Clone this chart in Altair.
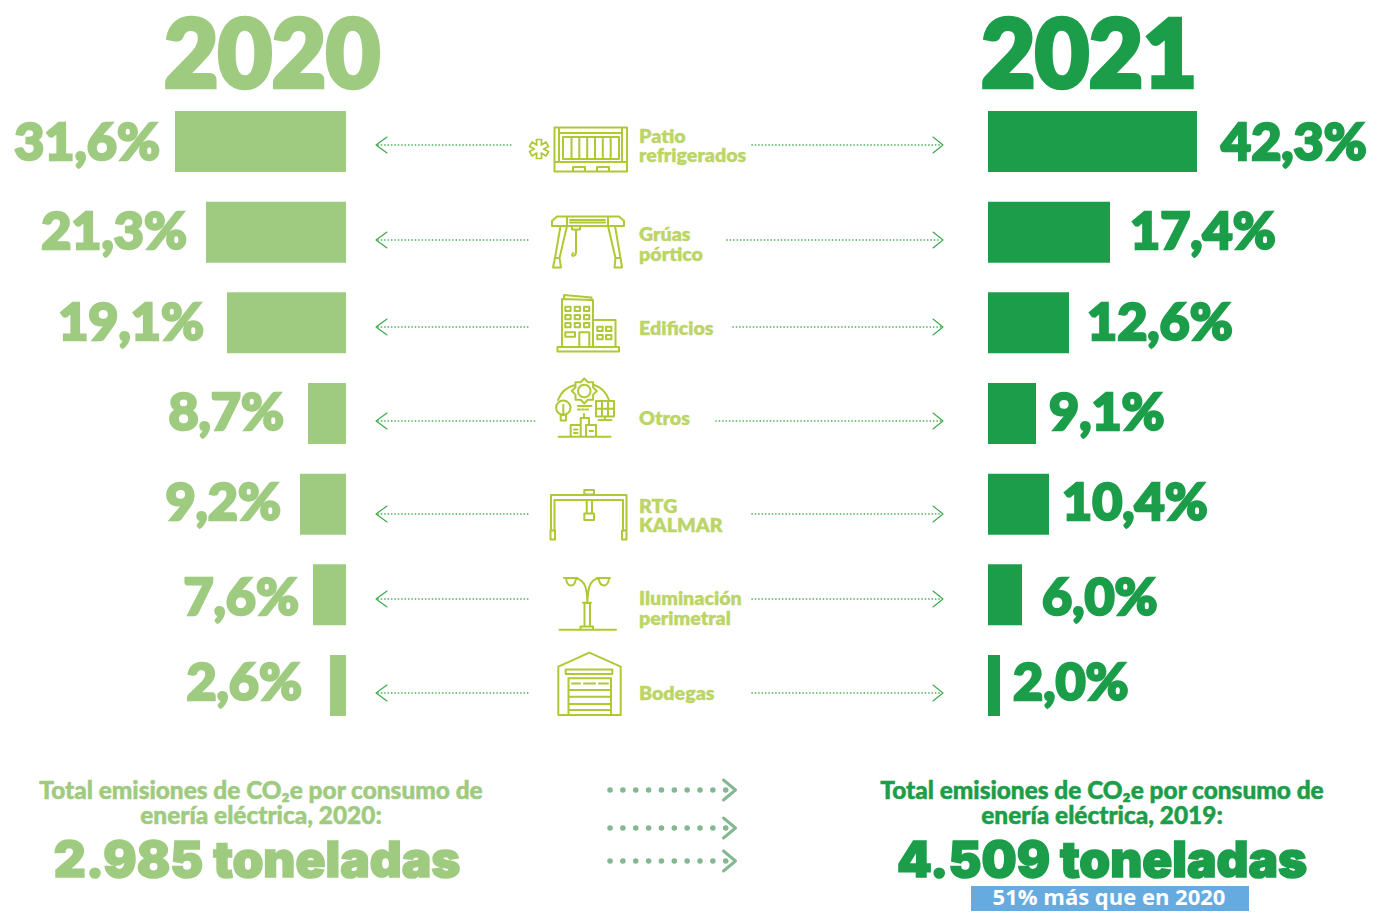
import math
import re
import altair as alt
import pandas as pd

# ---------- data ----------
categories = ["Patio refrigerados", "Grúas pórtico", "Edificios", "Otros", "RTG KALMAR",
              "Iluminación perimetral", "Bodegas"]
labels_2020 = ["31,6%", "21,3%", "19,1%", "8,7%", "9,2%", "7,6%", "2,6%"]
labels_2021 = ["42,3%", "17,4%", "12,6%", "9,1%", "10,4%", "6,0%", "2,0%"]
# bar lengths as drawn in the picture (the source's bars are not strictly proportional to their labels)
drawn_2020 = [34.2, 28.0, 23.8, 7.6, 9.2, 6.6, 3.2]
drawn_2021 = [41.8, 24.4, 16.2, 9.6, 12.2, 6.8, 2.4]
cat_lines = [["Patio", "refrigerados"], ["Grúas", "pórtico"], ["Edificios"], ["Otros"],
             ["RTG", "KALMAR"], ["Iluminación", "perimetral"], ["Bodegas"]]

LIGHT, DARK = "#9FCB81", "#1B9D49"
ICON, CAT_TXT = "#AEC935", "#BCD566"
ARROW, BIG_ARROW, BLUE = "#3BA848", "#84B792", "#65ABE0"
HEAVY, NUM, BODY = "Inter", "Lato", "Lato"

# ---------- layout, page pixels ----------
OX, OY = 8, 8
left_right_edge = [160, 187, 204, 284, 281, 299, 302]
right_left_edge = [1221, 1130, 1087, 1049, 1062, 1042, 1013]
pct_base = [160, 249, 340, 430, 520, 615, 700]
arrow_y = [145, 240, 327, 421, 514, 599, 693]
left_dot_end = [512, 530, 530, 535, 530, 530, 530]
right_dot_start = [752, 727, 733, 716, 752, 752, 752]
cat_base = [[143, 162], [241, 261], [335], [425], [513, 532], [605, 625], [700]]
PCT_SIZE = 52

one = alt.Data(values=[{}])


def text(s, x, y, size, color, font=HEAVY, weight=900, align="center", stroke=0.0):
    kw = dict(stroke=color, strokeWidth=stroke) if stroke else {}
    return alt.Chart(one).mark_text(
        font=font, fontWeight=weight, fontSize=size, color=color, align=align, baseline="alphabetic", **kw
    ).encode(x=alt.value(x - OX), y=alt.value(y - OY), text=alt.value(s))


def shape(path, cx, cy, color, sw):
    """Custom symbol: path given in page pixels, re-centred on (cx, cy). size=4 keeps 1 unit = 1 px."""
    idx = [0]

    def shift(m):
        v = float(m.group(0)) - (cx if idx[0] % 2 == 0 else cy)
        idx[0] += 1
        return f"{v:.2f}"

    p = re.sub(r"-?\d+\.?\d*", shift, path)
    return alt.Chart(one).mark_point(shape=p, size=4, opacity=1, strokeWidth=sw, strokeJoin="round",
                                     strokeCap="round", stroke=color, fill="transparent").encode(
        x=alt.value(cx - OX), y=alt.value(cy - OY))


def rect(x0, y0, x1, y1):
    return f"M{x0} {y0}L{x1} {y0}L{x1} {y1}L{x0} {y1}Z"


def line(*pts):
    return "M" + "L".join(f"{a} {b}" for a, b in pts)


def poly(*pts):
    return line(*pts) + "Z"


def circ(cx, cy, r):
    k = 0.5523 * r
    return (f"M{cx - r} {cy}C{cx - r} {cy - k} {cx - k} {cy - r} {cx} {cy - r}"
            f"C{cx + k} {cy - r} {cx + r} {cy - k} {cx + r} {cy}"
            f"C{cx + r} {cy + k} {cx + k} {cy + r} {cx} {cy + r}"
            f"C{cx - k} {cy + r} {cx - r} {cy + k} {cx - r} {cy}Z")


def star(cx, cy, r_out, r_in, n):
    pts = []
    for i in range(2 * n):
        r = r_out if i % 2 == 0 else r_in
        a = math.pi * i / n - math.pi / 2
        pts.append((round(cx + r * math.cos(a), 2), round(cy + r * math.sin(a), 2)))
    return poly(*pts)


def asterisk(cx, cy, r_out, half, r_in):
    pts = []
    for i in range(6):
        a = math.pi * i / 3 - math.pi / 2
        ux, uy = math.cos(a), math.sin(a)
        px, py = -uy, ux
        pts.append((round(cx + r_out * ux - half * px, 2), round(cy + r_out * uy - half * py, 2)))
        pts.append((round(cx + r_out * ux + half * px, 2), round(cy + r_out * uy + half * py, 2)))
        b = a + math.pi / 6
        pts.append((round(cx + r_in * math.cos(b), 2), round(cy + r_in * math.sin(b), 2)))
    return poly(*pts)


# ---------- icons ----------
patio = "".join([
    rect(554.5, 127.5, 627, 171.5),
    line((559, 128), (559, 162)), line((622, 128), (622, 162)),
    line((559, 133), (622, 133)),
    rect(563, 137, 619, 159),
    *[line((x, 137), (x, 159)) for x in (571.5, 579.3, 587.2, 595, 602.8, 610.7)],
    line((554.5, 162), (627, 162)),
    rect(573, 167, 585, 171.5), rect(597, 167, 609, 171.5),
])
snow = asterisk(539, 149, 9.5, 2.6, 4.6)
grua = "".join([
    poly((552, 226), (552, 221), (557, 216.5), (619, 216.5), (624, 221), (624, 226)),
    line((567, 216.5), (567, 226)), line((608, 216.5), (608, 226)),
    line((570, 222.5), (605, 222.5)), line((570, 220), (605, 220)),
    line((560.5, 226), (555, 258)), line((567, 226), (559.5, 258)),
    poly((555, 258), (559.5, 258), (561, 267.5), (553, 267.5)),
    line((608, 226), (615.5, 258)), line((615, 226), (620.5, 258)),
    poly((615.5, 258), (620.5, 258), (622, 267.5), (614.5, 267.5)),
    rect(572, 226, 580, 229.5),
    line((576, 230), (576, 252)),
    "M576 252C576 257 570 257 573 253",
])
edif = "".join([
    rect(557.5, 347, 619, 351.5),
    line((562, 347), (562, 299), (593, 300), (593, 347)),
    poly((564, 295), (591.5, 297.5), (591.5, 300), (564, 299)),
    *[rect(x, y, x + 5.3, y + 4.3) for x in (565.3, 574.7, 584) for y in (306.7, 315, 323)],
    rect(565.3, 332.3, 575, 336.7),
    rect(579.3, 332.3, 589.3, 347),
    line((593, 320), (615.5, 320), (615.5, 347)),
    *[rect(x, y, x + 5.4, y + 4.3) for x in (597.3, 606) for y in (326.7, 335)],
])
otros = "".join([
    star(584.3, 391, 12.5, 9.5, 8), circ(584.3, 391, 6.3),
    "M558 400C561 392 567 387 575 385", "M594 385C601 387 606 392 609 400",
    circ(563.3, 407.7, 7.2), rect(560.7, 415, 566, 420.5), line((563.3, 405), (563.3, 415)),
    rect(596, 401, 614, 416.5), line((602, 401), (602, 416.5)), line((608, 401), (608, 416.5)),
    line((596, 408.7), (614, 408.7)), line((605, 416.5), (605, 420)), line((598.5, 420), (611.5, 420)),
    line((578, 406), (591.5, 406)),
    line((578, 409.5), (580, 409.5)), line((582, 409.5), (584, 409.5)), line((586, 409.5), (588, 409.5)),
    line((558.5, 436.7), (610.5, 436.7)),
    rect(570.7, 425, 580.7, 436.7), rect(586, 425, 596, 436.7),
    line((580.7, 418), (589, 418), (589, 425)), line((580.7, 418), (580.7, 425)),
    line((584, 418), (584, 414)),
    line((574, 429.5), (577.5, 429.5)), line((574, 433), (577.5, 433)), line((589.5, 431), (593, 431)),
])
rtg = "".join([
    line((551, 531), (551, 495), (626.5, 495), (626.5, 531)),
    line((554.5, 531), (554.5, 500), (623, 500), (623, 531)),
    rect(550.5, 530.5, 555, 539.5), rect(622, 530.5, 626.5, 539.5),
    rect(584.3, 490, 594, 494.5),
    rect(586.7, 500, 592, 513.5), rect(584.3, 513.5, 594, 520),
])
ilum = "".join([
    line((559.5, 629.7), (616, 629.7)),
    rect(584.5, 603, 590, 626.5), line((580.5, 629.7), (580.5, 626.5), (593, 626.5), (593, 629.7)),
    line((583, 602.7), (591, 602.7)),
    "M587.3 602C587 590 586 580 575 578", "M587.3 602C588 590 589 580 598 578.5",
    line((564, 578), (577.3, 578)), "M566 578C567 588 575 588 576 578",
    line((596.7, 578), (610, 578)), "M598.5 578C600 588 608 588 609 578",
])
bodega = "".join([
    poly((558.3, 666.7), (589.3, 652.7), (620.7, 666.7), (620.7, 715), (558.3, 715)),
    rect(565.7, 669.5, 612.3, 674),
    rect(568.5, 678.3, 611, 715),
    line((572, 683.5), (580, 683.5)), line((584, 683.5), (595, 683.5)), line((599, 683.5), (608, 683.5)),
    *[line((568.5, y), (611, y)) for y in (690, 696.7, 704, 710)],
])
icons = [(patio, 590, 150), (grua, 588, 242), (edif, 588, 323), (otros, 585, 410),
         (rtg, 588, 515), (ilum, 588, 604), (bodega, 590, 684)]

# ---------- bars ----------
df = pd.DataFrame({"cat": categories, "y20": drawn_2020, "y21": drawn_2021})
band = alt.Y("cat:N", sort=categories, axis=None,
             scale=alt.Scale(range=[103, 708], paddingInner=0.327, paddingOuter=0))
bars20 = alt.Chart(df).mark_bar(color=LIGHT, cornerRadius=0).encode(
    x=alt.X("y20:Q", axis=None, scale=alt.Scale(domain=[0, 40], range=[338, 138])), y=band)
bars21 = alt.Chart(df).mark_bar(color=DARK, cornerRadius=0).encode(
    x=alt.X("y21:Q", axis=None, scale=alt.Scale(domain=[0, 50], range=[980, 1230])), y=band)

layers = [bars20, bars21]

# headings
layers += [text("2020", 272, 87, 93, LIGHT, font=NUM, stroke=4.5), text("2021", 1089, 87, 93, DARK, font=NUM, stroke=4.5)]


def rule(x0, x1, y, color, width, dash):
    return alt.Chart(one).mark_rule(color=color, strokeWidth=width, strokeDash=dash, strokeCap="round").encode(
        x=alt.value(x0 - OX), x2=alt.value(x1 - OX), y=alt.value(y - OY))


for i in range(len(categories)):
    layers.append(text(labels_2020[i], left_right_edge[i], pct_base[i], PCT_SIZE, LIGHT, font=NUM, align="right", stroke=2.5))
    layers.append(text(labels_2021[i], right_left_edge[i], pct_base[i], PCT_SIZE, DARK, font=NUM, align="left", stroke=2.5))
    for ln, b in zip(cat_lines[i], cat_base[i]):
        layers.append(text(ln, 639, b, 19.6, CAT_TXT, font=BODY, weight=800, align="left", stroke=0.3))
    ay = arrow_y[i]
    layers.append(rule(378, left_dot_end[i], ay, ARROW, 1.6, [0.2, 3.2]))
    layers.append(rule(right_dot_start[i], 941, ay, ARROW, 1.6, [0.2, 3.2]))
    layers.append(shape(line((387, ay - 8), (376, ay), (387, ay + 8)), 381, ay, ARROW, 1.1))
    layers.append(shape(line((933, ay - 8), (943, ay), (933, ay + 8)), 938, ay, ARROW, 1.1))
    p, cx, cy = icons[i]
    layers.append(shape(p, cx, cy, ICON, 2))

layers.append(shape(snow, 539, 149, ICON, 1.7))

# bottom arrows
for y in (790, 828, 861):
    layers.append(rule(610, 737, y, BIG_ARROW, 5.5, [0.1, 12.75]))
    layers.append(shape(line((723.5, y - 10), (735.5, y), (723.5, y + 10)), 729, y, BIG_ARROW, 3))

# bottom texts
layers += [
    text("Total emisiones de CO₂e por consumo de", 261, 799, 24.4, LIGHT, font=BODY, stroke=0.5),
    text("enería eléctrica, 2020:", 261, 824, 24.4, LIGHT, font=BODY, stroke=0.5),
    text("2.985 toneladas", 257, 877, 49.5, LIGHT, stroke=1.6),
    text("Total emisiones de CO₂e por consumo de", 1102, 799, 24.4, DARK, font=BODY, stroke=0.5),
    text("enería eléctrica, 2019:", 1102, 824, 24.4, DARK, font=BODY, stroke=0.5),
    text("4.509 toneladas", 1102, 877, 49.5, DARK, stroke=1.6),
    alt.Chart(one).mark_rect(color=BLUE).encode(
        x=alt.value(971 - OX), x2=alt.value(1249 - OX), y=alt.value(886 - OY), y2=alt.value(911 - OY)),
    text("51% más que en 2020", 1109, 905, 22, "#FFFFFF", font="Open Sans", weight=700),
]

chart = alt.layer(*layers).resolve_scale(x="independent", y="shared").properties(
    width=1362, height=903, padding=0, autosize=alt.AutoSizeParams(type="none"),
    background="#FFFFFF",
).configure_view(stroke=None)

chart.save("out.html", embed_options={"renderer": "svg", "actions": False})
